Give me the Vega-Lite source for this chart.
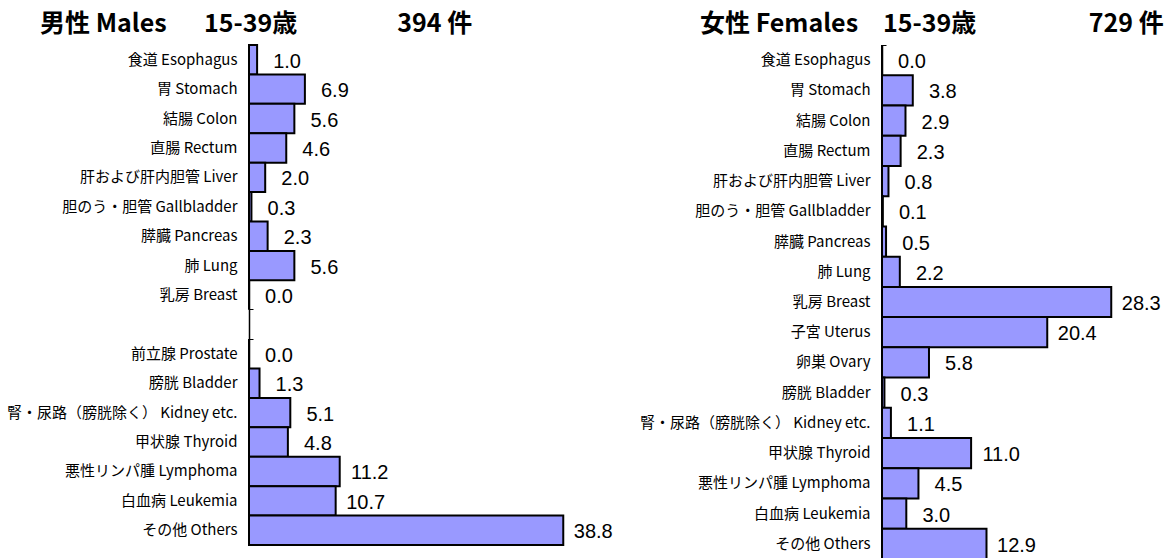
{
  "$schema": "https://vega.github.io/schema/vega-lite/v6.json",
  "padding": {"left": 0, "top": 12, "right": 0, "bottom": 0},
  "background": "white",
  "spacing": 0,
  "config": {
    "view": {"stroke": null},
    "axisY": {
      "title": null,
      "labelFont": "Noto Sans CJK JP",
      "labelFontSize": 15,
      "labelColor": "black",
      "labelPadding": 16,
      "labelLimit": 0,
      "domainColor": "black",
      "domainWidth": 1.5,
      "tickColor": "black",
      "tickSize": -4,
      "tickWidth": 1,
      "bandPosition": 0,
      "grid": false,
      "labelExpr": "datum.value == '_gap' ? '' : datum.value"
    },
    "title": {"font": "Noto Sans CJK JP", "fontSize": 25, "fontWeight": "bold", "color": "black", "anchor": "start", "frame": "group", "offset": 7}
  },
  "datasets": {
    "male": [
      {"cat": "食道 Esophagus", "v": 1.0},
      {"cat": "胃 Stomach", "v": 6.9},
      {"cat": "結腸 Colon", "v": 5.6},
      {"cat": "直腸 Rectum", "v": 4.6},
      {"cat": "肝および肝内胆管 Liver", "v": 2.0},
      {"cat": "胆のう・胆管 Gallbladder", "v": 0.3},
      {"cat": "膵臓 Pancreas", "v": 2.3},
      {"cat": "肺 Lung", "v": 5.6},
      {"cat": "乳房 Breast", "v": 0.0},
      {"cat": "前立腺 Prostate", "v": 0.0},
      {"cat": "膀胱 Bladder", "v": 1.3},
      {"cat": "腎・尿路（膀胱除く） Kidney etc.", "v": 5.1},
      {"cat": "甲状腺 Thyroid", "v": 4.8},
      {"cat": "悪性リンパ腫 Lymphoma", "v": 11.2},
      {"cat": "白血病 Leukemia", "v": 10.7},
      {"cat": "その他 Others", "v": 38.8}
    ],
    "female": [
      {"cat": "食道 Esophagus", "v": 0.0},
      {"cat": "胃 Stomach", "v": 3.8},
      {"cat": "結腸 Colon", "v": 2.9},
      {"cat": "直腸 Rectum", "v": 2.3},
      {"cat": "肝および肝内胆管 Liver", "v": 0.8},
      {"cat": "胆のう・胆管 Gallbladder", "v": 0.1},
      {"cat": "膵臓 Pancreas", "v": 0.5},
      {"cat": "肺 Lung", "v": 2.2},
      {"cat": "乳房 Breast", "v": 28.3},
      {"cat": "子宮 Uterus", "v": 20.4},
      {"cat": "卵巣 Ovary", "v": 5.8},
      {"cat": "膀胱 Bladder", "v": 0.3},
      {"cat": "腎・尿路（膀胱除く） Kidney etc.", "v": 1.1},
      {"cat": "甲状腺 Thyroid", "v": 11.0},
      {"cat": "悪性リンパ腫 Lymphoma", "v": 4.5},
      {"cat": "白血病 Leukemia", "v": 3.0},
      {"cat": "その他 Others", "v": 12.9}
    ]
  },
  "hconcat": [
    {
      "width": 361,
      "height": 500,
      "title": {"text": "男性 Males　\u200215-39歳　　　　394 件", "dx": -209},
      "data": {"name": "male"},
      "encoding": {
        "y": {
          "field": "cat", "type": "nominal",
          "scale": {"domain": ["食道 Esophagus", "胃 Stomach", "結腸 Colon", "直腸 Rectum", "肝および肝内胆管 Liver", "胆のう・胆管 Gallbladder", "膵臓 Pancreas", "肺 Lung", "乳房 Breast", "_gap", "前立腺 Prostate", "膀胱 Bladder", "腎・尿路（膀胱除く） Kidney etc.", "甲状腺 Thyroid", "悪性リンパ腫 Lymphoma", "白血病 Leukemia", "その他 Others"], "paddingInner": 0, "paddingOuter": 0},
          "axis": {"minExtent": 249, "maxExtent": 249}
        }
      },
      "layer": [
        {
          "mark": {"type": "bar", "fill": "#9999FF", "stroke": "black", "strokeWidth": 2},
          "encoding": {"x": {"field": "v", "type": "quantitative", "scale": {"domain": [0, 44.57], "nice": false}, "axis": null}}
        },
        {
          "mark": {"type": "text", "align": "center", "baseline": "middle", "dx": 30, "dy": 2, "fontSize": 20, "font": "Liberation Sans", "color": "black"},
          "encoding": {
            "x": {"field": "v", "type": "quantitative"},
            "text": {"field": "v", "type": "quantitative", "format": ".1f"}
          }
        }
      ]
    },
    {
      "width": 287,
      "height": 514,
      "title": {"text": "女性 Females　15-39歳　　　　\u2002729 件", "dx": -182},
      "data": {"name": "female"},
      "encoding": {
        "y": {
          "field": "cat", "type": "nominal",
          "scale": {"domain": ["食道 Esophagus", "胃 Stomach", "結腸 Colon", "直腸 Rectum", "肝および肝内胆管 Liver", "胆のう・胆管 Gallbladder", "膵臓 Pancreas", "肺 Lung", "乳房 Breast", "子宮 Uterus", "卵巣 Ovary", "膀胱 Bladder", "腎・尿路（膀胱除く） Kidney etc.", "甲状腺 Thyroid", "悪性リンパ腫 Lymphoma", "白血病 Leukemia", "その他 Others"], "paddingInner": 0, "paddingOuter": 0},
          "axis": {"minExtent": 269, "maxExtent": 269}
        }
      },
      "layer": [
        {
          "mark": {"type": "bar", "fill": "#9999FF", "stroke": "black", "strokeWidth": 2},
          "encoding": {"x": {"field": "v", "type": "quantitative", "scale": {"domain": [0, 35.43], "nice": false}, "axis": null}}
        },
        {
          "mark": {"type": "text", "align": "center", "baseline": "middle", "dx": 30, "dy": 2, "fontSize": 20, "font": "Liberation Sans", "color": "black"},
          "encoding": {
            "x": {"field": "v", "type": "quantitative"},
            "text": {"field": "v", "type": "quantitative", "format": ".1f"}
          }
        }
      ]
    }
  ]
}
